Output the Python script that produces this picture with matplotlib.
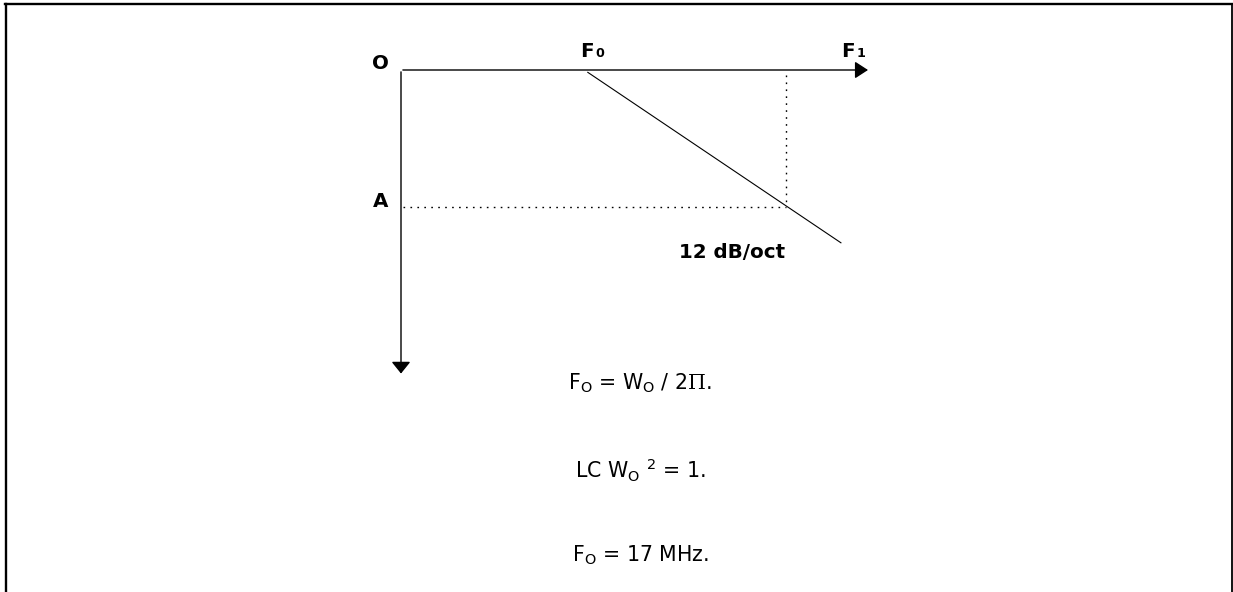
"""Second-order low-pass response sketch (12 dB/oct) with the LC resonance notes."""
import matplotlib

matplotlib.use("Agg")  # headless rendering
import matplotlib.pyplot as plt
from matplotlib.lines import Line2D

plt.rcParams["font.family"] = ["DejaVu Sans"]
plt.rcParams["mathtext.fontset"] = "custom"
plt.rcParams["mathtext.rm"] = "DejaVu Sans"
plt.rcParams["mathtext.bf"] = "DejaVu Sans:bold"
plt.rcParams["mathtext.it"] = "DejaVu Sans:italic"
plt.rcParams["mathtext.sf"] = "DejaVu Serif"  # only used for the serif Pi

# --------------------------------------------------------------------------- #
# Diagram values (origin O at 0,0; attenuation grows downward)
# --------------------------------------------------------------------------- #
freq_axis_end = 10.0
atten_axis_end = 6.5
f0 = 4.0
f1 = 8.25
level_a = 2.93
slope_x = [4.0, 9.42]
slope_y = [0.05, 3.7]

axis_labels = ["O", "F", "0", "F", "1", "A"]
slope_label = "12 dB/oct"
eq_lines = [
    r"F$_{\mathrm{O}}$ = W$_{\mathrm{O}}$ / 2$\mathsf{\Pi}$.",
    r"LC W$_{\mathrm{O}}$ ${}^{2}$ = 1.",
    r"F$_{\mathrm{O}}$ = 17 MHz.",
]

W, H = 1233, 592
PX = 46.7  # pixels per diagram unit
ORIGIN = (401, 70)

fig = plt.figure(figsize=(W / 100, H / 100), dpi=100)
ax = fig.add_axes([0, 0, 1, 1])
ax.axis("off")
ax.set_xlim(-ORIGIN[0] / PX, (W - ORIGIN[0]) / PX)
ax.set_ylim((H - ORIGIN[1]) / PX, -ORIGIN[1] / PX)

# outer frame (open at the bottom)
for xs, ys, lw in [
    ([6, 6], [0, H - 4], 1.7),
    ([5, W], [H - 4, H - 4], 1.7),
    ([W - 1.2, W - 1.2], [0, H - 4], 1.3),
]:
    fig.add_artist(Line2D([x / W for x in xs], [y / H for y in ys],
                          transform=fig.transFigure, color="black", lw=lw))

# axes with arrow heads
ax.annotate("", xy=(freq_axis_end, 0), xytext=(0.04, 0),
            arrowprops=dict(arrowstyle="-|>,head_length=0.8,head_width=0.52",
                            color="black", lw=1.0, shrinkA=0, shrinkB=0,
                            mutation_scale=10))
ax.annotate("", xy=(0, atten_axis_end), xytext=(0, 0.04),
            arrowprops=dict(arrowstyle="-|>,head_length=0.72,head_width=0.58",
                            color="black", lw=1.0, shrinkA=0, shrinkB=0,
                            mutation_scale=10))

# slope and guide lines
ax.plot(slope_x, slope_y, color="black", lw=0.8)
dots = (0, (1.2, 3.8))
ax.plot([f1, f1], [0.1, level_a], color="black", lw=1.0, linestyle=dots)
ax.plot([0.05, f1], [level_a, level_a], color="black", lw=1.0, linestyle=dots)

# labels
bold = dict(fontsize=14.3, fontweight="bold", textcoords="offset pixels",
            va="baseline")
small = dict(fontsize=9.2, fontweight="bold", textcoords="offset pixels",
             va="baseline", ha="center")
ax.annotate(axis_labels[0], xy=(0, 0), xytext=(-20.5, 1.3), ha="center", **bold)
ax.annotate(axis_labels[1], xy=(f0, 0), xytext=(-8, 13.3), ha="left", **bold)
ax.annotate(axis_labels[2], xy=(f0, 0), xytext=(12, 13.3), **small)
ax.annotate(axis_labels[3], xy=(freq_axis_end, 0), xytext=(-27, 13.3), ha="left", **bold)
ax.annotate(axis_labels[4], xy=(freq_axis_end, 0), xytext=(-6.5, 13.3), **small)
ax.annotate(axis_labels[5], xy=(0, level_a), xytext=(-20, 0.3), ha="center", **bold)
ax.annotate(slope_label, xy=(slope_x[1], slope_y[1]), xytext=(-109.3, -15.3),
            ha="center", **bold)

# resonance notes
for text, y in zip(eq_lines, [389.3, 478.3, 561.0]):
    fig.text(640 / W, 1 - y / H, text, ha="center", va="baseline", fontsize=14.8)

fig.savefig("out.png", dpi=100)
plt.close(fig)
